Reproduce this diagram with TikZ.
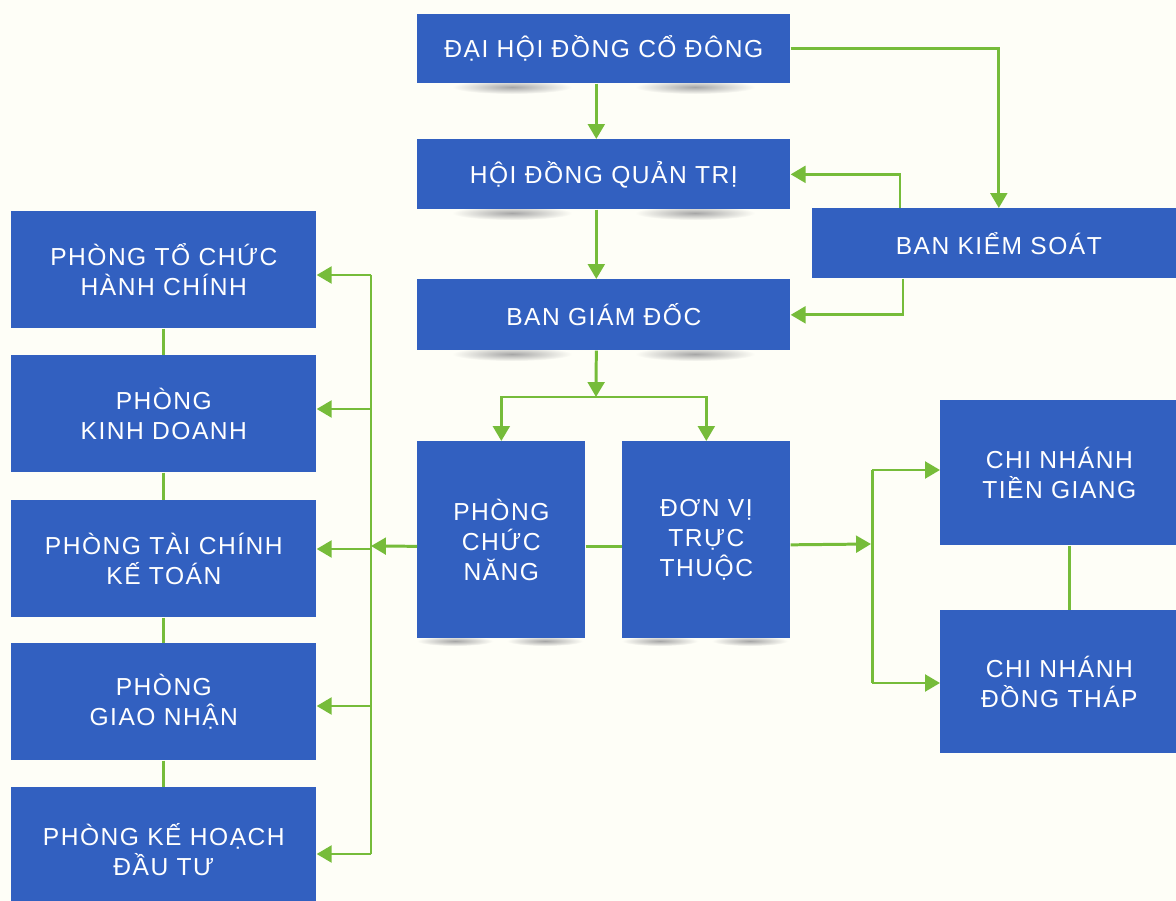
\documentclass[tikz,border=0pt]{standalone}
\usepackage{fontspec}
\setmainfont{Liberation Sans}[LetterSpace=6]
\usetikzlibrary{arrows.meta,calc}
\definecolor{boxblue}{RGB}{50,96,192}
\definecolor{lgreen}{RGB}{118,188,58}
\definecolor{paper}{RGB}{254,254,247}
\begin{document}
\begin{tikzpicture}[x=0.02cm,y=-0.02cm,
  box/.style={fill=boxblue, draw=none, text=white, anchor=north west, inner sep=0pt,
    align=center, font=\fontsize{14}{17.2}\selectfont},
  ln/.style={draw=lgreen, line width=1.7pt},
  arr/.style={ln, -{Triangle[length=8.5pt,width=9.5pt]}},
  shd/.style={inner color=black!35, outer color=paper}
]
\path[use as bounding box] (0,0) rectangle (1176,901);
\fill[paper] (0,0) rectangle (1176,901);
\clip (0,0) rectangle (1176,901);

% soft shadows under the central boxes
\foreach \yy in {87,213,354}{
  \shade[shd] (512,\yy) ellipse (60 and 7);
  \shade[shd] (695,\yy) ellipse (60 and 7);
}
\shade[shd] (455,641) ellipse (38 and 5);
\shade[shd] (545,641) ellipse (38 and 5);
\shade[shd] (660,641) ellipse (38 and 5);
\shade[shd] (750,641) ellipse (38 and 5);

% boxes
\node[box, minimum width=7.46cm, minimum height=1.38cm] (dh) at (417,14) {ĐẠI HỘI ĐỒNG CỔ ĐÔNG};
\node[box, minimum width=7.46cm, minimum height=1.40cm] (hd) at (417,139) {HỘI ĐỒNG QUẢN TRỊ};
\node[box, minimum width=7.46cm, minimum height=1.42cm] (bg) at (417,279) {BAN GIÁM ĐỐC};
\node[box, minimum width=7.46cm, minimum height=1.40cm] (bk) at (812,208) {BAN KIỂM SOÁT};
\node[box, minimum width=3.36cm, minimum height=3.94cm] (pcn) at (417,441) {PHÒNG\\CHỨC\\NĂNG};
\node[box, minimum width=3.36cm, minimum height=3.94cm] (dv) at (622,441) {ĐƠN VỊ\\TRỰC\\THUỘC};
\node[box, minimum width=6.10cm, minimum height=2.34cm] (l1) at (11,211) {PHÒNG TỔ CHỨC\\HÀNH CHÍNH};
\node[box, minimum width=6.10cm, minimum height=2.34cm] (l2) at (11,355) {PHÒNG\\KINH DOANH};
\node[box, minimum width=6.10cm, minimum height=2.34cm] (l3) at (11,500) {PHÒNG TÀI CHÍNH\\KẾ TOÁN};
\node[box, minimum width=6.10cm, minimum height=2.34cm] (l4) at (11,643) {PHÒNG\\GIAO NHẬN};
\node[box, minimum width=6.10cm, minimum height=2.48cm] (l5) at (11,787) {PHÒNG KẾ HOẠCH\\ĐẦU TƯ};
\node[box, minimum width=4.76cm, minimum height=2.90cm] (c1) at (940,400) {CHI NHÁNH\\TIỀN GIANG};
\node[box, minimum width=4.76cm, minimum height=2.86cm] (c2) at (940,610) {CHI NHÁNH\\ĐỒNG THÁP};

% top connectors
\draw[arr] (dh.east) -| (bk.north);
\draw[arr] ([xshift=1.76cm]bk.north west) |- (hd.east);
\draw[arr] ([xshift=1.82cm]bk.south west) |- (bg.east);
\draw[arr] ([xshift=-0.15cm]dh.south) -- ([xshift=-0.15cm]hd.north);
\draw[arr] ([xshift=-0.15cm]hd.south) -- ([xshift=-0.15cm]bg.north);
\coordinate (j) at (596,397);
\draw[arr] ([xshift=-0.15cm]bg.south) -- (j);
\draw[arr] (j) -| (pcn.north);
\draw[arr] (j) -| (dv.north);

% middle
\draw[ln] ([yshift=-0.13cm]pcn.east) -- ([yshift=-0.13cm]dv.west);
\coordinate (lj) at (371,546);
\draw[arr] ([yshift=-0.13cm]pcn.west) -- (lj);
\coordinate (a1) at (371,275);
\coordinate (a2) at (371,409);
\coordinate (a3) at (371,549);
\coordinate (a4) at (371,706);
\coordinate (a5) at (371,854);
\draw[ln] (a1) -- (a5);
\foreach \i in {1,...,5}{
  \draw[arr] (a\i) -- (a\i -| l\i.east);
}
\draw[ln] (l1.south) -- (l2.north);
\draw[ln] (l2.south) -- (l3.north);
\draw[ln] (l3.south) -- (l4.north);
\draw[ln] (l4.south) -- (l5.north);

% right
\coordinate (rj) at (871,544);
\draw[arr] ([yshift=-0.1cm]dv.east) -- (rj);
\coordinate (b1) at (872,470);
\coordinate (b2) at (872,683);
\draw[ln] (b1) -- (b2);
\draw[arr] (b1) -- (b1 -| c1.west);
\draw[arr] (b2) -- (b2 -| c2.west);
\draw[ln] ([xshift=0.2cm]c1.south) -- ([xshift=0.2cm]c2.north);
\end{tikzpicture}
\end{document}
